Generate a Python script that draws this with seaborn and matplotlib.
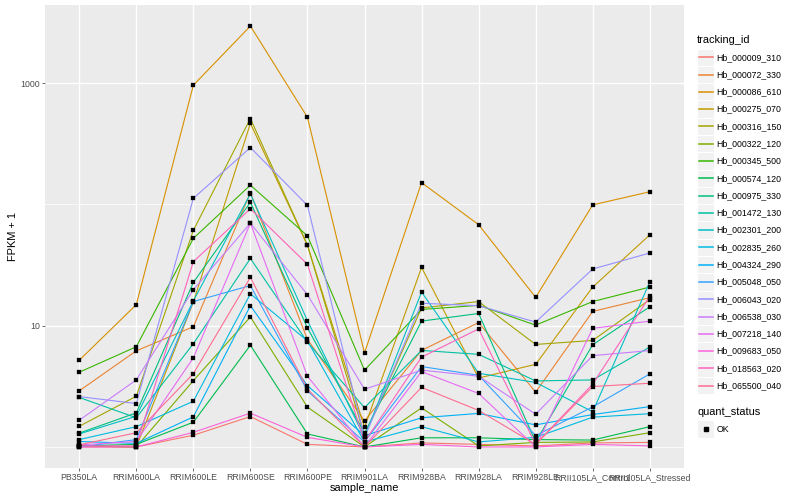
import numpy as np
import pandas as pd
import seaborn as sns
import matplotlib
matplotlib.use("Agg")
import matplotlib.pyplot as plt
from matplotlib.lines import Line2D
from matplotlib.patches import Rectangle
from matplotlib.ticker import FixedLocator, NullFormatter

samples = ["PB350LA", "RRIM600LA", "RRIM600LE", "RRIM600SE", "RRIM600PE",
           "RRIM901LA", "RRIM928BA", "RRIM928LA", "RRIM928LE",
           "RRII105LA_Control", "RRII105LA_Stressed"]

tracking_ids = ["Hb_000009_310", "Hb_000072_330", "Hb_000086_610", "Hb_000275_070",
                "Hb_000316_150", "Hb_000322_120", "Hb_000345_500", "Hb_000574_120",
                "Hb_000975_330", "Hb_001472_130", "Hb_002301_200", "Hb_002835_260",
                "Hb_004324_290", "Hb_005048_050", "Hb_006043_020", "Hb_006538_030",
                "Hb_007218_140", "Hb_009683_050", "Hb_018563_020", "Hb_065500_040"]

# FPKM + 1 per gene, one value per sample (in sample order)
hb_000009_310 = [1.0, 1.0, 1.25, 1.78, 1.05, 1.0, 1.08, 1.05, 1.02, 1.08, 1.09]
hb_000072_330 = [2.9, 6.2, 9.8, 125, 7.7, 1.64, 6.25, 10.6, 2.83, 13.1, 17.0]
hb_000086_610 = [5.18, 14.9, 960, 2950, 522, 5.95, 151, 68, 17.1, 99, 127]
hb_000275_070 = [1.02, 1.0, 15.6, 465, 46, 1.45, 30.2, 3.7, 4.8, 20.8, 56]
hb_000316_150 = [1.48, 2.62, 61, 510, 46, 1.24, 14.0, 15.8, 7.0, 7.55, 16.4]
hb_000322_120 = [1.02, 1.0, 3.52, 11.8, 2.13, 1.0, 2.1, 1.02, 1.09, 1.1, 1.31]
hb_000345_500 = [4.13, 6.7, 52.4, 144, 55, 4.29, 13.6, 14.7, 10.1, 15.8, 20.8]
hb_000574_120 = [1.02, 1.05, 1.6, 6.9, 1.28, 1.0, 1.19, 1.19, 1.15, 1.14, 1.47]
hb_000975_330 = [1.30, 1.91, 22.7, 104, 9.6, 1.3, 10.9, 12.6, 1.1, 6.97, 14.3]
hb_001472_130 = [2.56, 1.74, 7.1, 35.8, 7.3, 2.11, 6.25, 5.8, 3.5, 3.57, 6.67]
hb_002301_200 = [1.28, 1.79, 16.0, 122, 11.0, 1.2, 18.9, 4.05, 3.4, 1.95, 22.9]
hb_002835_260 = [1.15, 1.47, 2.38, 18.3, 7.5, 1.1, 1.47, 1.1, 1.2, 1.76, 1.88]
hb_004324_290 = [1.11, 1.07, 1.77, 14.6, 3.2, 1.24, 1.74, 1.89, 1.52, 1.85, 2.15]
hb_005048_050 = [1.0, 1.15, 15.8, 21.4, 2.9, 1.1, 4.6, 3.9, 1.24, 2.14, 4.0]
hb_006043_020 = [2.6, 2.28, 112, 294, 98, 1.2, 15.3, 14.6, 10.7, 29.3, 39.7]
hb_006538_030 = [1.66, 3.57, 19.8, 70, 18, 2.99, 4.3, 3.83, 1.86, 5.66, 6.23]
hb_007218_140 = [1.04, 1.11, 5.43, 70, 3.83, 1.0, 4.18, 2.76, 1.0, 9.5, 10.9]
hb_009683_050 = [1.0, 1.0, 1.32, 1.9, 1.2, 1.0, 1.05, 1.0, 1.0, 1.05, 1.02]
hb_018563_020 = [1.02, 1.02, 33.7, 92, 32, 1.1, 5.5, 9.4, 1.05, 3.3, 17.4]
hb_065500_040 = [1.04, 1.31, 4.02, 25, 3.0, 1.0, 3.1, 2.0, 1.05, 3.15, 3.35]

series = [hb_000009_310, hb_000072_330, hb_000086_610, hb_000275_070, hb_000316_150,
          hb_000322_120, hb_000345_500, hb_000574_120, hb_000975_330, hb_001472_130,
          hb_002301_200, hb_002835_260, hb_004324_290, hb_005048_050, hb_006043_020,
          hb_006538_030, hb_007218_140, hb_009683_050, hb_018563_020, hb_065500_040]

colors = ["#F8766D", "#EA8331", "#D89000", "#C09B00", "#A3A500", "#7CAE00", "#39B600",
          "#00BB4E", "#00BF7D", "#00C1A3", "#00BFC4", "#00BAE0", "#00B0F6", "#35A2FF",
          "#9590FF", "#C77CFF", "#E76BF3", "#FA62DB", "#FF62BC", "#FF6C91"]

rows = []
for tid, vals in zip(tracking_ids, series):
    for s, v in zip(samples, vals):
        rows.append({"tracking_id": tid, "sample_name": s, "value": v, "quant_status": "OK"})
df = pd.DataFrame(rows)

plt.rcParams['font.family'] = ['Liberation Sans', 'DejaVu Sans']
fig = plt.figure(figsize=(8, 5), dpi=100)
W, H = 800, 500
px0, px1, py0, py1 = 45, 684, 5, 468
ax = fig.add_axes([px0 / W, 1 - py1 / H, (px1 - px0) / W, (py1 - py0) / H])
ax.set_facecolor("#EBEBEB")

sns.lineplot(data=df, x="sample_name", y="value", hue="tracking_id",
             hue_order=tracking_ids, palette=colors, sort=False, legend=False,
             linewidth=0.8, ax=ax, zorder=3)
sns.scatterplot(data=df, x="sample_name", y="value", color="black", s=7,
                marker="s", edgecolor="black", linewidth=0.2, legend=False, ax=ax, zorder=4)

ax.set_yscale("log")
lo, hi = 0.0, np.log10(max(max(s) for s in series))
pad = 0.05 * (hi - lo)
ax.set_ylim(10 ** (lo - pad), 10 ** (hi + pad))
ax.set_xlim(-0.6, len(samples) - 0.4)

ax.yaxis.set_major_locator(FixedLocator([10, 1000]))
ax.yaxis.set_minor_locator(FixedLocator([1, 100, 10000]))
ax.yaxis.set_minor_formatter(NullFormatter())
ax.set_yticklabels(["10", "1000"])
ax.grid(which="major", color="white", linewidth=1.0, zorder=0)
ax.grid(which="minor", axis="y", color="white", linewidth=0.5, zorder=0)
ax.set_axisbelow(True)
for sp in ax.spines.values():
    sp.set_visible(False)
ax.tick_params(which="major", length=2.0, width=0.5, color="#333333",
               labelsize=6.3, labelcolor="#4D4D4D", pad=1.5)
ax.tick_params(which="minor", length=0)

ax.set_xlabel("sample_name", fontsize=7.9, color="black", va="center")
ax.xaxis.set_label_coords(0.5, (py1 - 488) / (py1 - py0))
ax.set_ylabel("FPKM + 1", fontsize=7.9, color="black", va="center")
ax.yaxis.set_label_coords((13 - px0) / (px1 - px0), 0.5)

# legends (ggplot-style), in pixel coords
def fx(x):
    return x / W

def fy(y):
    return 1 - y / H

fig.text(fx(697), fy(40), "tracking_id", fontsize=7.9, va="center", ha="left")
key = 17.28
y0 = 57.3
for i, (tid, c) in enumerate(zip(tracking_ids, colors)):
    yc = y0 + key * i
    fig.patches.append(Rectangle((fx(697), fy(yc + key / 2)), key / W, key / H,
                                 transform=fig.transFigure, facecolor="#F2F2F2",
                                 edgecolor="white", linewidth=0.8, zorder=1))
    fig.lines.append(Line2D([fx(698.7), fx(712.6)], [fy(yc), fy(yc)],
                            transform=fig.transFigure, color=c, linewidth=1.1,
                            zorder=5))
    fig.text(fx(716.7), fy(yc), tid, fontsize=6.3, va="center", ha="left")

fig.text(fx(697), fy(412.3), "quant_status", fontsize=7.9, va="center", ha="left")
yc = 429
fig.patches.append(Rectangle((fx(697), fy(yc + key / 2)), key / W, key / H,
                             transform=fig.transFigure, facecolor="#F2F2F2",
                             edgecolor="white", linewidth=0.8, zorder=1))
fig.lines.append(Line2D([fx(705.6)], [fy(yc)], transform=fig.transFigure,
                        marker="s", color="black", markersize=2.2, linestyle="none",
                        zorder=5))
fig.text(fx(716.7), fy(yc), "OK", fontsize=6.3, va="center", ha="left")

fig.savefig("out.png", dpi=100, facecolor="white")
